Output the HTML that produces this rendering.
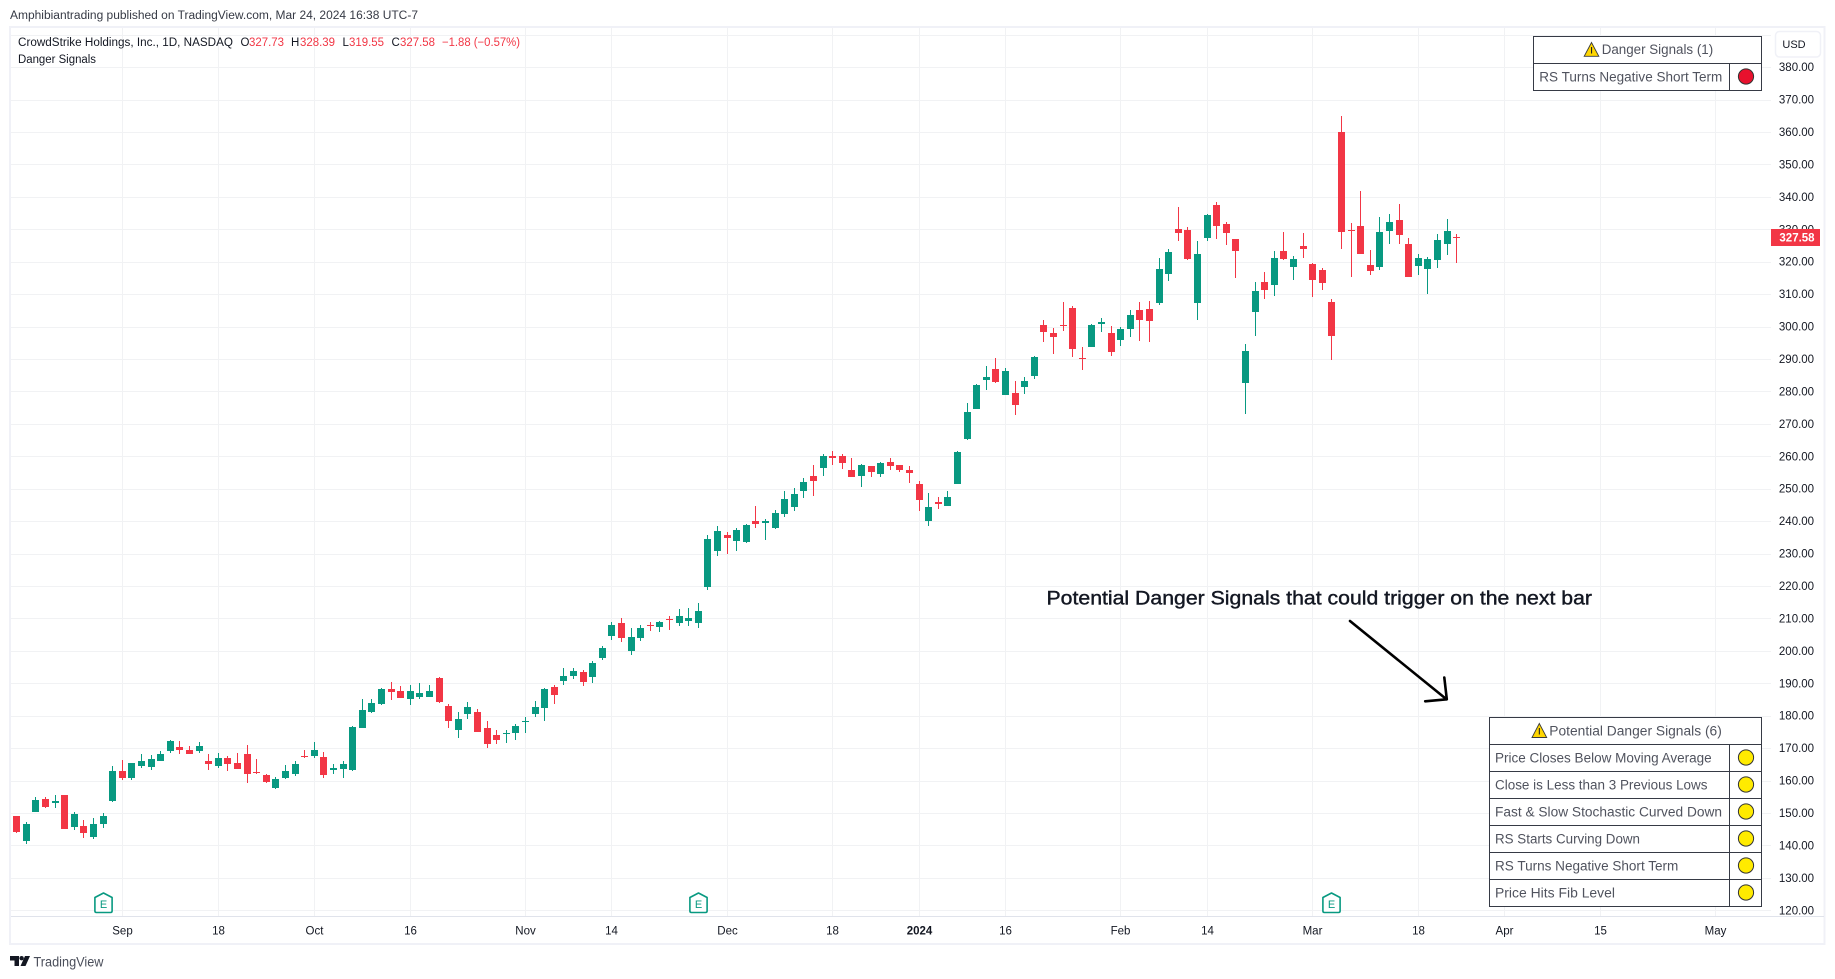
<!DOCTYPE html>
<html lang="en">
<head>
<meta charset="utf-8">
<title>CrowdStrike Holdings daily chart - Danger Signals</title>
<style>
  html, body { margin: 0; padding: 0; background: #ffffff; }
  body { width: 1835px; height: 979px; overflow: hidden; }
  svg { display: block; font-family: "Liberation Sans", sans-serif; }
  .tbl { fill: #50535e; font-size: 13.5px; }
</style>
</head>
<body>
<svg id="chart" xmlns="http://www.w3.org/2000/svg" width="1835" height="979" viewBox="0 0 1835 979">
  <rect x="0" y="0" width="1835" height="979" fill="#ffffff"/>
  <text x="10" y="19" font-size="11.5" fill="#363a45" textLength="408" lengthAdjust="spacingAndGlyphs">Amphibiantrading published on TradingView.com, Mar 24, 2024 16:38 UTC-7</text>

  <g id="grid"></g>

  <rect x="10" y="27" width="1814.5" height="917" fill="none" stroke="#f0f1f7" stroke-width="2"/>
  <rect x="11" y="916" width="1813" height="1" fill="#e0e3eb"/>

  <g id="candles"></g>
  <g id="earnings"></g>
  <g id="price-axis"></g>
  <g id="time-axis"></g>

  <g>
    <rect x="1771" y="229" width="49" height="17" fill="#f23645"/>
    <text x="1797" y="241.5" font-size="11.5" font-weight="700" fill="#ffffff" text-anchor="middle">327.58</text>
  </g>

  <g>
    <rect x="1775.5" y="31.5" width="45" height="25.5" rx="4" fill="#ffffff" stroke="#f0f1f7" stroke-width="1.5"/>
    <text x="1794" y="48" font-size="11" fill="#131722" text-anchor="middle">USD</text>
  </g>

  <g font-size="11.5">
    <text x="18" y="46" fill="#131722" textLength="215" lengthAdjust="spacingAndGlyphs">CrowdStrike Holdings, Inc., 1D, NASDAQ</text>
    <text x="240.5" y="46" fill="#131722">O</text>
    <text x="249" y="46" fill="#f23645" textLength="35" lengthAdjust="spacingAndGlyphs">327.73</text>
    <text x="291" y="46" fill="#131722">H</text>
    <text x="300" y="46" fill="#f23645" textLength="35" lengthAdjust="spacingAndGlyphs">328.39</text>
    <text x="342.5" y="46" fill="#131722">L</text>
    <text x="349" y="46" fill="#f23645" textLength="35" lengthAdjust="spacingAndGlyphs">319.55</text>
    <text x="391.5" y="46" fill="#131722">C</text>
    <text x="400" y="46" fill="#f23645" textLength="35" lengthAdjust="spacingAndGlyphs">327.58</text>
    <text x="442" y="46" fill="#f23645" textLength="78" lengthAdjust="spacingAndGlyphs">−1.88 (−0.57%)</text>
    <text x="18" y="63" fill="#131722" textLength="78" lengthAdjust="spacingAndGlyphs">Danger Signals</text>
  </g>

  <g>
    <rect x="1533.5" y="36.5" width="228" height="54" fill="#ffffff" stroke="#363a45" stroke-width="1"/>
    <line x1="1533.5" y1="63.5" x2="1761.5" y2="63.5" stroke="#363a45" stroke-width="1"/>
    <line x1="1729.5" y1="63.5" x2="1729.5" y2="90.5" stroke="#363a45" stroke-width="1"/>
    <polygon points="1591.5,42.5 1598.8,56.3 1584.2,56.3" fill="#ffd600" stroke="#3a3a3a" stroke-width="0.9"/>
    <rect x="1591" y="47" width="1.1" height="6.5" fill="#222222"/>
    <text class="tbl" x="1601.7" y="54" textLength="111.5" lengthAdjust="spacingAndGlyphs">Danger Signals (1)</text>
    <text class="tbl" x="1539.3" y="81.3" textLength="183" lengthAdjust="spacingAndGlyphs">RS Turns Negative Short Term</text>
    <circle cx="1746" cy="76.5" r="7.6" fill="#e8112d" stroke="#333333" stroke-width="1"/>
  </g>

  <text x="1046.5" y="604.5" font-size="19" fill="#131722" stroke="#131722" stroke-width="0.4" textLength="545.5" lengthAdjust="spacingAndGlyphs">Potential Danger Signals that could trigger on the next bar</text>
  <g fill="none" stroke="#000000" stroke-width="2.6" stroke-linecap="round" stroke-linejoin="round">
    <path d="M1350 621 L1446.5 699.3"/>
    <path d="M1444.3 677.5 L1446.8 699.3 L1425.2 701.3"/>
  </g>

  <g>
    <rect x="1489.5" y="717.5" width="272" height="189" fill="#ffffff" stroke="#363a45" stroke-width="1"/>
    <g stroke="#363a45" stroke-width="1">
      <line x1="1489.5" y1="744.5" x2="1761.5" y2="744.5"/>
      <line x1="1489.5" y1="771.5" x2="1761.5" y2="771.5"/>
      <line x1="1489.5" y1="798.5" x2="1761.5" y2="798.5"/>
      <line x1="1489.5" y1="825.5" x2="1761.5" y2="825.5"/>
      <line x1="1489.5" y1="852.5" x2="1761.5" y2="852.5"/>
      <line x1="1489.5" y1="879.5" x2="1761.5" y2="879.5"/>
      <line x1="1729.5" y1="744.5" x2="1729.5" y2="906.5"/>
    </g>
    <polygon points="1539.3,723.5 1546.7,737.5 1532,737.5" fill="#ffd600" stroke="#3a3a3a" stroke-width="0.9"/>
    <rect x="1538.8" y="728" width="1.1" height="6.5" fill="#222222"/>
    <text class="tbl" x="1549.3" y="735.3" textLength="172.5" lengthAdjust="spacingAndGlyphs">Potential Danger Signals (6)</text>
    <text class="tbl" x="1495" y="762.3" textLength="216.7" lengthAdjust="spacingAndGlyphs">Price Closes Below Moving Average</text>
    <text class="tbl" x="1495" y="789.3" textLength="212.5" lengthAdjust="spacingAndGlyphs">Close is Less than 3 Previous Lows</text>
    <text class="tbl" x="1495" y="816.3" textLength="227" lengthAdjust="spacingAndGlyphs">Fast &amp; Slow Stochastic Curved Down</text>
    <text class="tbl" x="1495" y="843.3" textLength="145" lengthAdjust="spacingAndGlyphs">RS Starts Curving Down</text>
    <text class="tbl" x="1495" y="870.3" textLength="183.3" lengthAdjust="spacingAndGlyphs">RS Turns Negative Short Term</text>
    <text class="tbl" x="1495" y="897.3" textLength="120" lengthAdjust="spacingAndGlyphs">Price Hits Fib Level</text>
    <g fill="#ffeb00" stroke="#333333" stroke-width="1">
      <circle cx="1746" cy="757.5" r="7.6"/>
      <circle cx="1746" cy="784.5" r="7.6"/>
      <circle cx="1746" cy="811.5" r="7.6"/>
      <circle cx="1746" cy="838.5" r="7.6"/>
      <circle cx="1746" cy="865.5" r="7.6"/>
      <circle cx="1746" cy="892.5" r="7.6"/>
    </g>
  </g>

  <g>
    <g fill="#131722">
      <polygon points="10,956 19,956 19,966 14.5,966 14.5,960.5 10,960.5"/>
      <circle cx="21.6" cy="958.2" r="2.2"/>
      <polygon points="25,956 30,956 25.5,966 20.5,966"/>
    </g>
    <text x="33.5" y="966.5" font-size="13.5" fill="#4a4e5a" textLength="70" lengthAdjust="spacingAndGlyphs">TradingView</text>
  </g>
</svg>

<script>
const categories = [
"Aug 17","Aug 18","Aug 21","Aug 22","Aug 23","Aug 24","Aug 25","Aug 28","Aug 29","Aug 30","Aug 31",
"Sep 1","Sep 5","Sep 6","Sep 7","Sep 8","Sep 11","Sep 12","Sep 13","Sep 14","Sep 15","Sep 18","Sep 19","Sep 20","Sep 21","Sep 22","Sep 25","Sep 26","Sep 27","Sep 28","Sep 29",
"Oct 2","Oct 3","Oct 4","Oct 5","Oct 6","Oct 9","Oct 10","Oct 11","Oct 12","Oct 13","Oct 16","Oct 17","Oct 18","Oct 19","Oct 20","Oct 23","Oct 24","Oct 25","Oct 26","Oct 27","Oct 30","Oct 31",
"Nov 1","Nov 2","Nov 3","Nov 6","Nov 7","Nov 8","Nov 9","Nov 10","Nov 13","Nov 14","Nov 15","Nov 16","Nov 17","Nov 20","Nov 21","Nov 22","Nov 24","Nov 27","Nov 28","Nov 29","Nov 30",
"Dec 1","Dec 4","Dec 5","Dec 6","Dec 7","Dec 8","Dec 11","Dec 12","Dec 13","Dec 14","Dec 15","Dec 18","Dec 19","Dec 20","Dec 21","Dec 22","Dec 26","Dec 27","Dec 28","Dec 29",
"Jan 2","Jan 3","Jan 4","Jan 5","Jan 8","Jan 9","Jan 10","Jan 11","Jan 12","Jan 16","Jan 17","Jan 18","Jan 19","Jan 22","Jan 23","Jan 24","Jan 25","Jan 26","Jan 29","Jan 30","Jan 31",
"Feb 1","Feb 2","Feb 5","Feb 6","Feb 7","Feb 8","Feb 9","Feb 12","Feb 13","Feb 14","Feb 15","Feb 16","Feb 20","Feb 21","Feb 22","Feb 23","Feb 26","Feb 27","Feb 28","Feb 29",
"Mar 1","Mar 4","Mar 5","Mar 6","Mar 7","Mar 8","Mar 11","Mar 12","Mar 13","Mar 14","Mar 15","Mar 18","Mar 19","Mar 20","Mar 21","Mar 22"
];

const opens = [
149.1,141.4,150.3,154.3,153.1,155.6,145.7,146.0,142.6,146.6,
153.7,163.0,160.8,164.5,164.2,166.0,169.1,170.4,169.4,169.1,
166.0,164.5,167.0,165.4,168.2,162.6,161.7,157.7,160.8,162.0,
167.6,167.6,167.3,163.3,163.6,163.3,176.2,181.2,183.6,188.2,
187.6,185.2,185.8,185.8,191.6,183.0,175.6,180.5,181.2,176.2,
174.0,174.4,174.7,178.1,180.5,182.4,188.9,190.7,192.2,193.5,
192.0,197.8,204.6,208.6,200.0,204.0,208.1,207.4,209.8,208.6,
209.2,208.6,219.7,230.8,235.7,233.9,233.6,240.0,239.4,237.9,
242.2,244.4,249.3,253.9,256.4,260.1,260.1,255.8,253.9,257.0,
254.5,258.2,257.3,255.8,251.4,240.0,245.9,244.7,251.4,265.3,
274.6,283.5,286.9,278.9,279.5,281.4,284.8,300.5,298.0,300.5,
305.7,290.3,293.7,300.8,298.0,295.9,299.3,305.1,305.4,307.3,
316.2,330.1,329.8,307.3,327.3,337.5,331.6,327.0,282.6,304.5,
313.7,312.8,323.3,318.4,324.8,319.3,317.4,307.6,360.0,329.8,
331.0,319.0,318.4,329.5,332.9,325.5,318.7,317.7,320.5,325.5,
327.73
];

const highs = [
149.1,147.2,154.9,154.9,155.6,155.6,150.3,147.8,148.5,150.0,
164.5,166.3,165.4,168.2,167.9,169.1,172.5,172.2,170.7,171.9,
168.2,168.5,167.6,168.5,171.0,166.7,162.0,161.1,164.8,166.0,
169.4,171.9,168.8,165.1,166.0,176.8,185.2,185.2,188.6,190.4,
189.2,189.5,190.1,189.5,191.9,183.6,181.2,184.2,182.1,178.4,
175.6,175.6,177.4,179.6,184.5,188.5,189.5,194.7,194.7,194.1,
196.9,201.5,208.9,210.1,207.0,208.0,208.9,209.2,210.8,212.9,
213.2,214.8,235.7,238.5,236.6,237.9,239.1,244.7,240.6,243.4,
249.3,250.2,253.3,257.3,260.7,261.6,260.7,259.5,257.6,257.0,
258.2,259.5,257.3,257.0,252.4,248.7,247.4,249.3,261.6,276.4,
282.3,287.8,290.3,287.2,283.2,284.4,290.9,302.0,299.6,307.6,
306.3,293.7,300.8,302.6,300.2,299.9,305.1,307.6,307.9,321.1,
323.9,336.9,330.7,326.4,334.7,338.4,332.2,327.0,294.6,313.7,
316.8,323.3,329.2,321.8,328.9,319.6,318.1,308.5,365.0,331.9,
341.8,323.6,333.8,334.7,337.8,327.3,322.4,321.5,328.5,333.2,
328.39
];

const lows = [
143.8,140.5,150.3,151.5,151.5,145.1,144.8,142.3,142.0,145.4,
153.4,160.2,160.2,163.9,163.3,166.0,168.5,168.2,168.2,168.5,
163.3,163.9,163.0,163.6,159.3,162.0,159.3,157.4,160.5,161.4,
167.0,167.0,160.8,162.0,160.8,163.0,176.2,180.8,183.3,184.8,
185.5,183.3,185.2,185.8,183.9,176.2,173.1,179.0,175.0,170.0,
171.3,171.6,172.5,174.7,179.6,178.4,183.6,189.5,191.3,189.2,
190.1,197.2,203.4,202.7,198.7,203.0,206.1,205.8,206.4,207.7,
207.7,207.0,218.8,229.2,229.9,230.8,233.3,237.9,234.2,237.6,
241.3,243.1,247.1,247.7,253.9,257.3,256.1,253.6,250.5,253.6,
253.6,255.8,255.2,251.8,243.1,238.5,243.7,244.7,251.4,265.0,
274.6,280.4,282.6,278.9,272.7,279.2,283.8,295.2,291.5,298.6,
290.6,286.6,293.7,298.3,290.9,294.0,296.8,295.6,295.2,306.6,
314.0,326.4,320.5,302.0,326.4,327.0,325.1,315.0,273.0,297.1,
308.5,309.4,320.5,314.4,321.1,309.1,311.3,289.7,323.9,315.3,
322.4,315.9,317.4,325.5,325.5,315.3,315.9,310.0,318.0,322.1,
319.55
];

const closes = [
144.0,146.6,154.0,151.9,153.7,145.1,149.7,143.8,146.6,149.1,
163.0,160.8,165.4,166.0,166.7,168.2,172.2,169.4,168.2,170.7,
165.1,167.0,165.1,163.6,162.0,162.3,159.6,160.5,163.0,165.1,
167.3,169.4,161.7,163.9,165.1,176.5,181.8,183.9,188.2,187.3,
185.5,187.6,187.0,187.6,184.2,178.4,179.0,182.7,175.0,171.3,
172.5,174.7,176.8,178.4,182.7,188.2,186.4,192.2,193.8,190.4,
196.3,200.9,208.0,204.0,204.3,207.0,207.8,208.9,209.5,210.8,
210.1,212.3,234.5,236.9,234.8,237.3,238.8,239.1,240.0,242.5,
246.8,248.4,252.1,252.4,260.1,259.5,257.9,253.6,257.3,255.2,
257.9,257.0,255.8,254.8,246.5,244.4,245.3,247.4,261.3,273.7,
282.0,284.4,282.9,286.3,275.8,283.2,290.6,298.3,296.8,300.2,
293.1,290.0,300.5,301.4,292.2,299.3,303.6,302.0,301.7,317.8,
323.0,328.9,320.8,322.4,334.4,331.0,328.8,323.3,292.5,311.0,
311.3,321.1,320.8,320.8,323.9,314.4,313.4,297.1,329.2,329.5,
322.4,317.1,329.2,332.2,328.2,315.3,321.1,320.8,326.7,329.5,
327.58
];

const priceTicks = [120,130,140,150,160,170,180,190,200,210,220,230,240,250,260,270,280,290,300,310,320,330,340,350,360,370,380];
const gridOnlyPrices = [390];
const timeTickBars = [11,21,31,41,53,62,74,85,94,103,115,124,135,146,155,165,177];
const timeTickLabels = ["Sep","18","Oct","16","Nov","14","Dec","18","2024","16","Feb","14","Mar","18","Apr","15","May"];
const earningsBars = [9,71,137];

const SVG_NS = "http://www.w3.org/2000/svg";
const UP_COLOR = "#089981";
const DOWN_COLOR = "#f23645";
const GRID_COLOR = "#f1f2f4";

function xScale(bar) { return Math.round(16.2 + 9.6 * bar); }
function yScale(price) { return 910.3 - (price - 120) * 3.243; }

function make(tag, attrs, parent) {
  const el = document.createElementNS(SVG_NS, tag);
  for (const key in attrs) { el.setAttribute(key, attrs[key]); }
  parent.appendChild(el);
  return el;
}

const gridLayer = document.getElementById("grid");
const candleLayer = document.getElementById("candles");
const earningsLayer = document.getElementById("earnings");
const priceLayer = document.getElementById("price-axis");
const timeLayer = document.getElementById("time-axis");

timeTickBars.forEach(function (bar) {
  const line = make("rect", { x: xScale(bar), y: 28, width: 1, height: 888, fill: GRID_COLOR }, gridLayer);
  
  
});

priceTicks.concat(gridOnlyPrices).forEach(function (price) {
  const line = make("rect", { x: 11, y: Math.round(yScale(price)), width: 1760, height: 1, fill: GRID_COLOR }, gridLayer);
  
  
});

priceTicks.forEach(function (price) {
  const label = make("text", { x: 1796.5, y: yScale(price) + 4, "font-size": 11.5, fill: "#131722", "text-anchor": "middle" }, priceLayer);
  
  
  label.textContent = price.toFixed(2);
});

timeTickBars.forEach(function (bar, i) {
  const isYear = timeTickLabels[i] === "2024";
  const label = make("text", { x: xScale(bar) + 0.5, y: 934.5, "font-size": 11.5, fill: "#131722", "text-anchor": "middle", "font-weight": isYear ? 700 : 400 }, timeLayer);
  
  
  label.textContent = timeTickLabels[i];
});

categories.forEach(function (date, i) {
  const center = xScale(i);
  const color = closes[i] < opens[i] ? DOWN_COLOR : UP_COLOR;
  const bodyTop = Math.round(yScale(Math.max(opens[i], closes[i])));
  const bodyBottom = Math.round(yScale(Math.min(opens[i], closes[i])));
  const wickTop = Math.round(yScale(highs[i]));
  const wickBottom = Math.round(yScale(lows[i]));

  const group = make("g", {}, candleLayer);
  
  
  const title = make("title", {}, group);
  title.textContent = date;

  const wick = make("rect", { x: center, y: wickTop, width: 1, height: Math.max(1, wickBottom - wickTop), fill: color }, group);
  
  

  const body = make("rect", { x: center - 3, y: bodyTop, width: 7, height: Math.max(1, bodyBottom - bodyTop), fill: color }, group);
  
  
});

earningsBars.forEach(function (bar) {
  const cx = xScale(bar) + 0.5;
  const group = make("g", {}, earningsLayer);
  
  

  const badge = make("path", {
    d: "M" + (cx - 8.6) + " 897.5 L" + cx + " 893 L" + (cx + 8.6) + " 897.5 L" + (cx + 8.6) + " 911 Q" + (cx + 8.6) + " 912.5 " + (cx + 7) + " 912.5 L" + (cx - 7) + " 912.5 Q" + (cx - 8.6) + " 912.5 " + (cx - 8.6) + " 911 Z",
    fill: "#ffffff", stroke: UP_COLOR, "stroke-width": 1.6, "stroke-linejoin": "round"
  }, group);
  
  

  const letter = make("text", { x: cx, y: 908, "font-size": 11, fill: UP_COLOR, "text-anchor": "middle" }, group);
  
  
  letter.textContent = "E";
});
</script>
</body>
</html>
